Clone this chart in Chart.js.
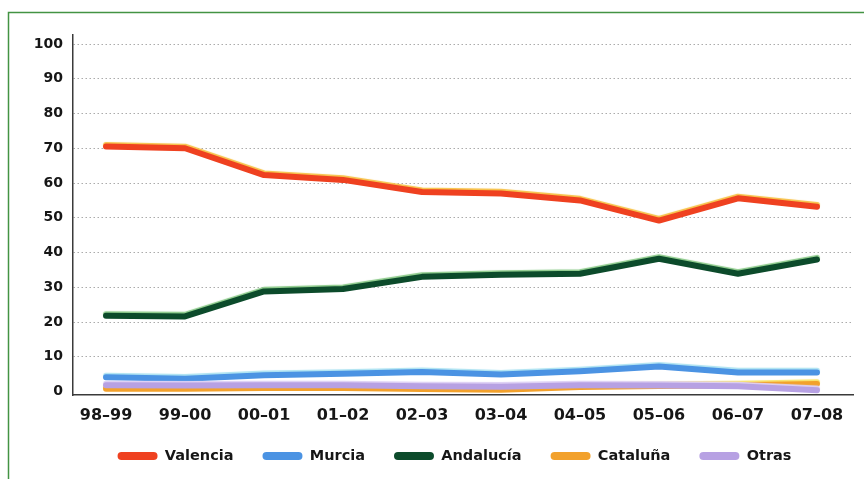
<!DOCTYPE html>
<html lang="es">
<head>
<meta charset="utf-8">
<title>Procedencia por comunidad</title>
<script src="https://cdn.jsdelivr.net/npm/chart.js@4.4.1/dist/chart.umd.min.js"></script>
<style>
  html, body { margin: 0; padding: 0; background: #ffffff; }
  #wrap { position: relative; width: 864px; height: 479px; }
</style>
</head>
<body>
<div id="wrap"><canvas id="chart" width="864" height="479"></canvas></div>
<script>
// Campañas (eje X)
const categories = ['98–99', '99–00', '00–01', '01–02', '02–03', '03–04', '04–05', '05–06', '06–07', '07–08'];

// Porcentaje por comunidad de origen
const valencia  = [70.5, 70.0, 62.3, 60.9, 57.4, 57.0, 55.0, 49.2, 55.6, 53.2];
const murcia    = [4.1, 3.7, 4.7, 5.1, 5.6, 4.9, 5.8, 7.2, 5.5, 5.5];
const andalucia = [21.8, 21.6, 28.8, 29.5, 33.0, 33.6, 33.9, 38.2, 33.9, 38.0];
const cataluna  = [0.8, 0.8, 1.0, 1.0, 0.7, 0.5, 1.3, 1.6, 1.8, 2.2];
const otras     = [1.8, 1.7, 1.8, 1.8, 1.5, 1.4, 1.8, 1.7, 1.5, 0.4];

// Marcas del eje Y
const yTicks = [0, 10, 20, 30, 40, 50, 60, 70, 80, 90, 100];

const toPoints = arr => arr.map((v, i) => ({ x: i, y: v }));

function serie(label, values, color, glow, order) {
  return {
    label,
    data: toPoints(values),
    borderColor: color,
    backgroundColor: color,
    borderWidth: 6,
    borderCapStyle: 'round',
    borderJoinStyle: 'round',
    pointRadius: 0,
    pointHoverRadius: 0,
    tension: 0,
    fill: false,
    glow,
    order
  };
}

// Marco verde alrededor del gráfico
const framePlugin = {
  id: 'frame',
  beforeDraw(chart) {
    const c = chart.ctx;
    c.save();
    c.fillStyle = '#ffffff';
    c.fillRect(0, 0, chart.width, chart.height);
    c.strokeStyle = '#439343';
    c.lineWidth = 1.5;
    c.strokeRect(8.5, 12.5, chart.width + 20, chart.height + 20);
    c.restore();
  }
};

// Reflejo claro en el borde superior de cada línea
const glowPlugin = {
  id: 'glow',
  beforeDatasetDraw(chart, args) {
    const ds = chart.data.datasets[args.index];
    const c = chart.ctx;
    c.save();
    c.shadowColor = ds.glow;
    c.shadowOffsetX = 0;
    c.shadowOffsetY = -1.6;
    c.shadowBlur = 0.8;
  },
  afterDatasetDraw(chart) {
    chart.ctx.restore();
  }
};

const axisFont = { family: "'DejaVu Sans', sans-serif", weight: 'bold' };

new Chart(document.getElementById('chart'), {
  type: 'line',
  data: {
    datasets: [
      serie('Valencia',  valencia,  '#ef4120', '#f7c24a', 1),
      serie('Murcia',    murcia,    '#4b93e3', '#aee3f2', 1),
      serie('Andalucía', andalucia, '#0c4b2b', '#8ecb8c', 1),
      serie('Cataluña',  cataluna,  '#f2a12c', '#f9e36a', 1),
      serie('Otras',     otras,     '#b7a1e3', '#ddd0f4', 0)
    ]
  },
  options: {
    responsive: false,
    animation: false,
    devicePixelRatio: 1,
    layout: { padding: { top: 35, left: 56, right: 11, bottom: 5.75 } },
    plugins: {
      tooltip: { enabled: false },
      legend: {
        position: 'bottom',
        align: 'center',
        labels: {
          boxWidth: 40,
          boxHeight: 8,
          useBorderRadius: true,
          borderRadius: 4,
          padding: 29,
          color: '#161616',
          font: { family: "'DejaVu Sans', sans-serif", weight: 'bold', size: 14.5 },
          sort: (a, b) => a.datasetIndex - b.datasetIndex,
          generateLabels(chart) {
            const items = Chart.defaults.plugins.legend.labels.generateLabels(chart);
            items.forEach(it => {
              const ds = chart.data.datasets[it.datasetIndex];
              it.fillStyle = ds.borderColor;
              it.strokeStyle = ds.borderColor;
              it.lineWidth = 0;
              it.borderRadius = 4;
            });
            return items;
          }
        }
      }
    },
    scales: {
      x: {
        type: 'linear',
        min: -0.418,
        max: 9.456,
        afterFit(scale) { scale.height = 24.75; },
        afterBuildTicks(scale) {
          scale.ticks = categories.map((_, i) => ({ value: i }));
        },
        ticks: {
          autoSkip: false,
          maxRotation: 0,
          padding: 11,
          color: '#161616',
          font: { ...axisFont, size: 16 },
          callback: v => categories[v]
        },
        grid: { display: false, drawTicks: false },
        border: { display: true, color: '#3a3a3a', width: 1.5 }
      },
      y: {
        min: -1,
        max: 102.6,
        afterFit(scale) { scale.width = 17; },
        afterBuildTicks(scale) {
          scale.ticks = yTicks.map(v => ({ value: v }));
        },
        ticks: {
          mirror: true,
          crossAlign: 'far',
          padding: -39.2,
          color: '#161616',
          font: { ...axisFont, size: 14 }
        },
        grid: {
          drawTicks: false,
          lineWidth: 1,
          color: ctx => (ctx.tick && ctx.tick.value === 0) ? 'rgba(0,0,0,0)' : '#ababab'
        },
        border: { display: true, color: '#3a3a3a', width: 1.5, dash: [1.5, 2.5] }
      }
    }
  },
  plugins: [framePlugin, glowPlugin]
});
</script>
</body>
</html>
